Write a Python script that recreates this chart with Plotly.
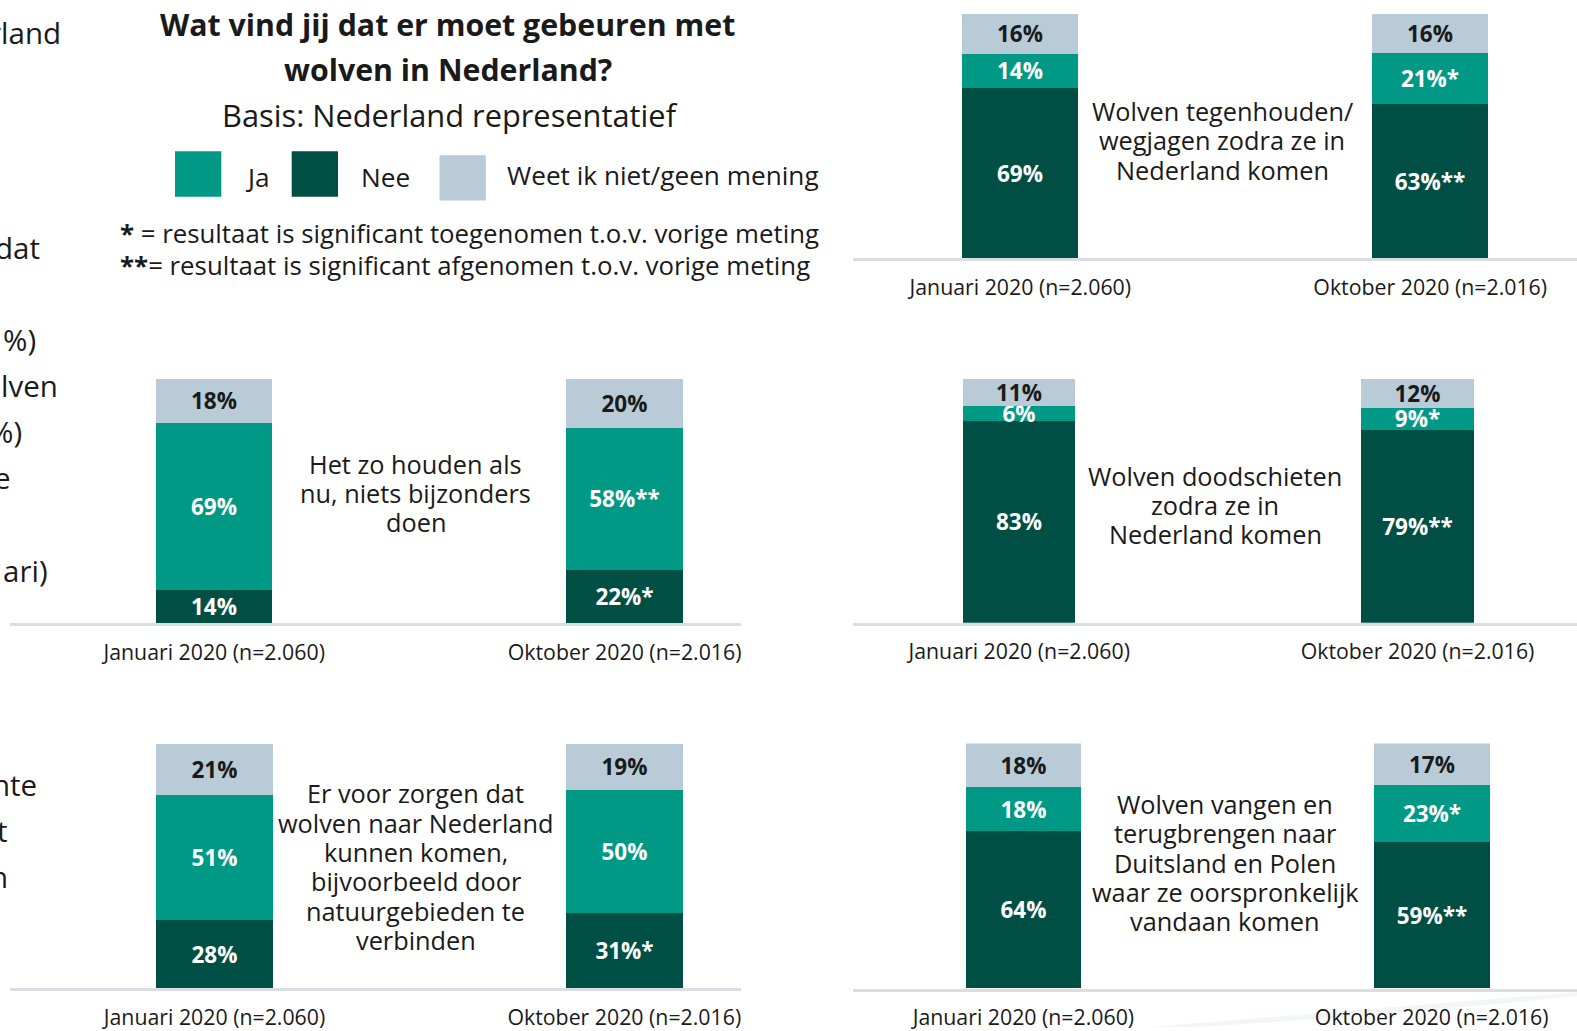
import plotly.graph_objects as go

# ---------------- data ----------------
categories = ["Januari 2020 (n=2.060)", "Oktober 2020 (n=2.016)"]

statements = [
    "Wolven tegenhouden/\nwegjagen zodra ze in\nNederland komen",
    "Het zo houden als\nnu, niets bijzonders\ndoen",
    "Wolven doodschieten\nzodra ze in\nNederland komen",
    "Er voor zorgen dat\nwolven naar Nederland\nkunnen komen,\nbijvoorbeeld door\nnatuurgebieden te\nverbinden",
    "Wolven vangen en\nterugbrengen naar\nDuitsland en Polen\nwaar ze oorspronkelijk\nvandaan komen",
]

nee_values = [[69, 63], [14, 22], [83, 79], [28, 31], [64, 59]]
ja_values = [[14, 21], [69, 58], [6, 9], [51, 50], [18, 23]]
weet_values = [[16, 16], [18, 20], [11, 12], [21, 19], [18, 17]]

nee_sig = [["", "**"], ["", "*"], ["", "**"], ["", "*"], ["", "**"]]
ja_sig = [["", "*"], ["", "**"], ["", "*"], ["", ""], ["", "*"]]
weet_sig = [["", ""], ["", ""], ["", ""], ["", ""], ["", ""]]

series_names = ["Nee", "Ja", "Weet ik niet/geen mening"]

title_lines = ["Wat vind jij dat er moet gebeuren met", "wolven in Nederland?"]
subtitle = "Basis: Nederland representatief"
notes = ["<b>*</b> = resultaat is significant toegenomen t.o.v. vorige meting",
         "<b>**</b>= resultaat is significant afgenomen t.o.v. vorige meting"]

left_fragments = ["rland", "dat", "%)", "lven", "%)", "e", "ari)", "nte", "t", "n"]

# ---------------- style ----------------
W, H = 1577, 1031
C_JA = "#009985"
C_NEE = "#004F44"
C_WEET = "#B8CBD6"
C_TXT = "#1a1a1a"
C_AXIS = "#D9DEE3"
FONT = "Open Sans"

# panel geometry in pixels: centre of bar0, centre of bar1, bar width,
# axis left, axis right, bar top, bar bottom, text centre x, text centre y
geom = [
    dict(c0=1020.3, c1=1430.2, w=116.3, xl=853, xr=1577, yt=14.0, yb=259.5, tx=1222, ty=141),
    dict(c0=214.2, c1=624.6, w=116.5, xl=10, xr=741, yt=380.2, yb=625.6, tx=416, ty=495),
    dict(c0=1019.2, c1=1417.5, w=112.5, xl=853, xr=1577, yt=380.0, yb=625.3, tx=1215, ty=507),
    dict(c0=214.5, c1=624.3, w=116.8, xl=10, xr=741, yt=746.5, yb=992.0, tx=416, ty=870),
    dict(c0=1023.4, c1=1431.7, w=115.7, xl=853, xr=1577, yt=746.3, yb=992.7, tx=1225, ty=866),
]

fig = go.Figure()
layout_axes = {}
annotations = []
shapes = []

for i, g in enumerate(geom):
    k = i + 1
    xa = "x" if k == 1 else f"x{k}"
    ya = "y" if k == 1 else f"y{k}"
    span = g["c1"] - g["c0"]
    bw = g["w"] / span
    for name, vals, sig, col, tcol in [
        ("Nee", nee_values[i], nee_sig[i], C_NEE, "white"),
        ("Ja", ja_values[i], ja_sig[i], C_JA, "white"),
        ("Weet ik niet/geen mening", weet_values[i], weet_sig[i], C_WEET, C_TXT),
    ]:
        fig.add_trace(go.Bar(
            x=categories, y=vals, name=name, xaxis=xa, yaxis=ya,
            marker=dict(color=col, line=dict(width=0)), width=bw,
            text=[f"{v}%{s}" for v, s in zip(vals, sig)], texttemplate="%{text}",
            textposition="inside", insidetextanchor="middle", textangle=0,
            textfont=dict(family=FONT, size=22.5, color=tcol, weight="bold"),
            showlegend=False, hoverinfo="skip",
        ))
    xr0 = (g["xl"] - g["c0"]) / span
    xr1 = (g["xr"] - g["c0"]) / span
    layout_axes["xaxis" if k == 1 else f"xaxis{k}"] = dict(
        domain=[g["xl"] / W, g["xr"] / W], range=[xr0, xr1], anchor=ya,
        type="category", showline=True, linecolor=C_AXIS, linewidth=3,
        showgrid=False, zeroline=False, ticks="", ticklabelstandoff=8,
        tickfont=dict(family=FONT, size=21.3, color=C_TXT), fixedrange=True,
    )
    layout_axes["yaxis" if k == 1 else f"yaxis{k}"] = dict(
        domain=[1 - g["yb"] / H, 1 - g["yt"] / H], range=[0, 100], anchor=xa,
        visible=False, fixedrange=True,
    )
    lines = statements[i].split("\n")
    n = len(lines)
    for j, ln in enumerate(lines):
        yy = g["ty"] + (j - (n - 1) / 2) * 29.5
        annotations.append(dict(
            text=ln, x=g["tx"] / W, y=1 - yy / H, xref="paper", yref="paper",
            xanchor="center", yanchor="middle", showarrow=False,
            font=dict(family=FONT, size=25.3, color=C_TXT),
        ))

# title block
for j, t in enumerate(title_lines):
    annotations.append(dict(text=f"<b>{t}</b>", x=447.5 / W, y=1 - [24.5, 69.5][j] / H,
                            xref="paper", yref="paper", xanchor="center", yanchor="middle",
                            showarrow=False, font=dict(family=FONT, size=30.3, color=C_TXT)))
annotations.append(dict(text=subtitle, x=449.6 / W, y=1 - 115.7 / H, xref="paper", yref="paper",
                        xanchor="center", yanchor="middle", showarrow=False,
                        font=dict(family=FONT, size=30.8, color=C_TXT)))

# legend (drawn manually for large swatches)
legend_items = [
    (C_JA, "Ja", 175.0, 151.9, 243.4, 177.5),
    (C_NEE, "Nee", 291.7, 151.9, 358.5, 177.5),
    (C_WEET, "Weet ik niet/geen mening", 439.5, 155.9, 504.9, 175.5),
]
for col, lab, sx, sy, lx, ly in legend_items:
    shapes.append(dict(type="rect", xref="paper", yref="paper",
                       x0=sx / W, x1=(sx + 46.3) / W, y0=1 - (sy + 45.5) / H, y1=1 - sy / H,
                       fillcolor=col, line=dict(width=0)))
    annotations.append(dict(text=lab, x=lx / W, y=1 - ly / H, xref="paper", yref="paper",
                            xanchor="left", yanchor="middle", showarrow=False,
                            font=dict(family=FONT, size=26.2, color=C_TXT)))

for j, t in enumerate(notes):
    annotations.append(dict(text=t, x=117.7 / W, y=1 - [234.3, 266.5][j] / H,
                            xref="paper", yref="paper", xanchor="left", yanchor="middle",
                            showarrow=False, font=dict(family=FONT, size=25.8, color=C_TXT)))

# cut-off text at the left edge of the slide
frag_pos = [(63.4, 32.2), (42.2, 248.4), (38.2, 341), (60.3, 387.2), (24.1, 433.5),
            (13.0, 479.7), (50.3, 572.3), (39.2, 787.5), (10.0, 833.7), (10.0, 880.0)]
for t, (rx, cy) in zip(left_fragments, frag_pos):
    annotations.append(dict(text=t, x=rx / W, y=1 - cy / H, xref="paper", yref="paper",
                            xanchor="right", yanchor="middle", showarrow=False,
                            font=dict(family=FONT, size=29.5, color=C_TXT)))

# faint slide swoosh bottom right
shapes.append(dict(type="path", xref="paper", yref="paper",
                   path=f"M {1150/W} 0 Q {1380/W} {1-1012/H} {1} {1-996/H} L 1 {1-1000/H} Q {1400/W} {1-1018/H} {1200/W} 0 Z",
                   fillcolor="#eceff1", opacity=0.6, line=dict(width=0), layer="below"))

fig.update_layout(
    width=W, height=H, margin=dict(l=0, r=0, t=0, b=0),
    paper_bgcolor="white", plot_bgcolor="rgba(0,0,0,0)",
    barmode="stack", barnorm="percent", bargap=0,
    uniformtext=dict(mode="show", minsize=22.5),
    annotations=annotations, shapes=shapes,
    **layout_axes,
)

fig.write_html("out.html")
